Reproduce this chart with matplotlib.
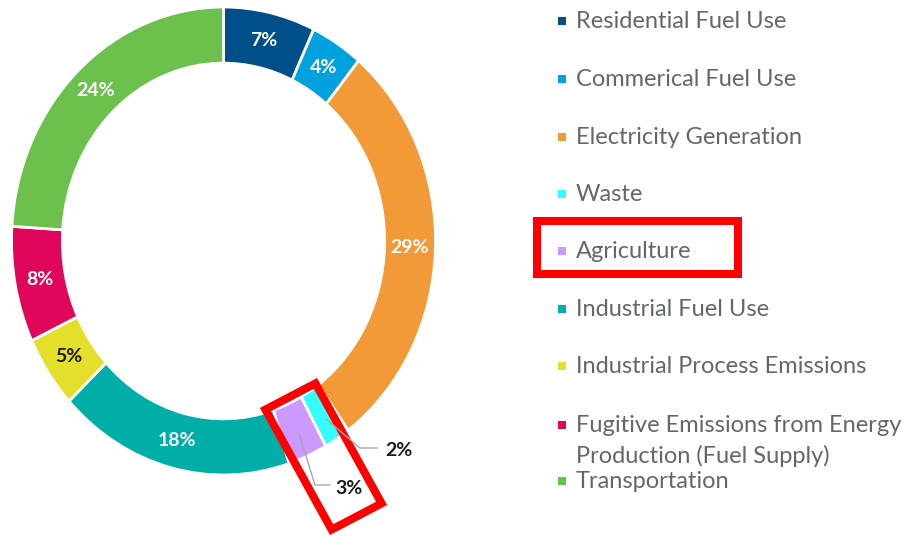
import matplotlib
matplotlib.use("Agg")
import matplotlib.pyplot as plt
from matplotlib.patches import Rectangle, Polygon
import numpy as np

# emission shares by sector (percent)
categories = [
    "Residential Fuel Use",
    "Commerical Fuel Use",
    "Electricity Generation",
    "Waste",
    "Agriculture",
    "Industrial Fuel Use",
    "Industrial Process Emissions",
    "Fugitive Emissions from Energy\nProduction (Fuel Supply)",
    "Transportation",
]
shares = [7, 4, 29, 2, 3, 18, 5, 8, 24]
colors = ["#004f88", "#00a1df", "#f29a37", "#33ffff", "#cc99ff",
          "#00aea8", "#e3df2b", "#e0065a", "#6cc04c"]
label_colors = ["white", "white", "white", "#1a1a1a", "#1a1a1a",
                "white", "#1a1a1a", "white", "white"]
outside = [3, 4]  # small slices labelled outside the ring

W, H = 915, 537
FONT = "Lato"

fig = plt.figure(figsize=(W / 100, H / 100), dpi=100)

# donut (slightly taller than wide, like the source)
ax = fig.add_axes([11.5 / W, (H - 475) / H, 424 / W, 468 / H])
wedges, _ = ax.pie(shares, colors=colors, startangle=90, counterclock=False,
                   radius=1.0,
                   wedgeprops=dict(width=0.24, edgecolor="white", linewidth=2))
ax.set_aspect("auto")
ax.set_xlim(-1, 1)
ax.set_ylim(-1, 1)

# overlay in pixel coordinates for legend and callouts
ov = fig.add_axes([0, 0, 1, 1])
ov.set_xlim(0, W)
ov.set_ylim(H, 0)
ov.axis("off")
ov.patch.set_alpha(0)


def to_px(x, y):
    return ov.transData.inverted().transform(ax.transData.transform((x, y)))


for i, w in enumerate(wedges):
    mid = np.deg2rad((w.theta1 + w.theta2) / 2)
    txt = f"{shares[i]}%"
    if i in outside:
        continue
    ax.text(0.88 * np.cos(mid), 0.88 * np.sin(mid), txt, ha="center",
            va="center", color=label_colors[i], fontsize=14,
            fontweight="bold", family=FONT)

# leader lines for the two small slices
callouts = {3: ((360, 448), (377, 448), (399, 450)),
            4: ((315, 485), (330, 485), (349, 488))}
for i, (elbow, end, lab) in callouts.items():
    w = wedges[i]
    mid = np.deg2rad((w.theta1 + w.theta2) / 2)
    sx, sy = to_px(0.9 * np.cos(mid), 0.9 * np.sin(mid))
    ov.plot([sx, elbow[0], end[0]], [sy, elbow[1], end[1]],
            color="#a6a6a6", lw=1)
    ov.text(lab[0], lab[1], f"{shares[i]}%", ha="center", va="center",
            color=label_colors[i], fontsize=14, fontweight="bold",
            family=FONT)

# legend
baselines = [28, 86, 144, 201, 258, 316, 373, 432, 488]
for i, name in enumerate(categories):
    b = baselines[i]
    ov.add_patch(Rectangle((558, b - 11), 8, 8, color=colors[i], lw=0))
    lines = name.split("\n")
    for k, line in enumerate(lines):
        ov.text(576, b + k * 31, line, ha="left", va="baseline",
                fontsize=17, color="#62666e", family=FONT)

# red highlight boxes
ov.add_patch(Rectangle((537, 221), 201, 53, fill=False, ec="#ff0000",
                       lw=5.8, joinstyle="miter"))
ov.add_patch(Polygon([(265.4, 409.6), (315.4, 383.4), (381.6, 503.4),
                      (331.6, 529.6)], closed=True, fill=False,
                     ec="#ff0000", lw=5.8, joinstyle="miter"))

fig.savefig("out.png", dpi=100)
